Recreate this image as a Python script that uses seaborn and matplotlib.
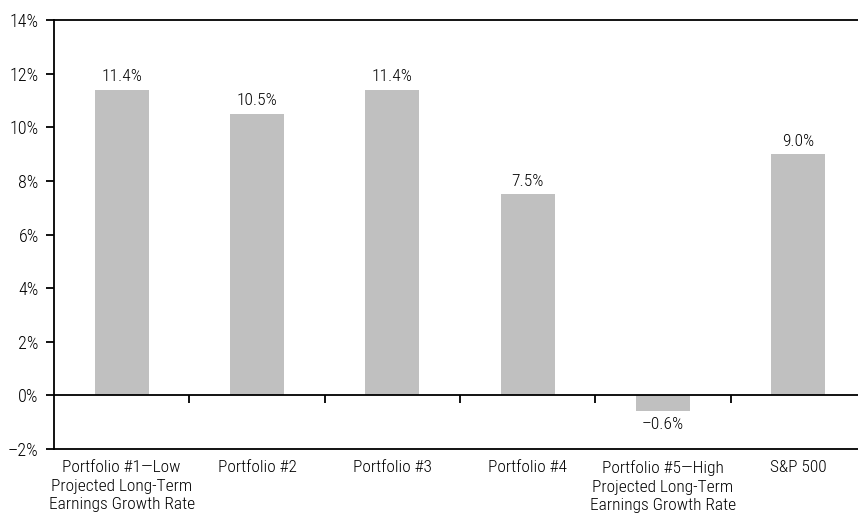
import matplotlib
matplotlib.use("Agg")
import matplotlib.pyplot as plt
import seaborn as sns
import pandas as pd
from matplotlib.ticker import FuncFormatter

categories = [
    "Portfolio #1\u2014Low\nProjected Long-Term\nEarnings Growth Rate",
    "Portfolio #2",
    "Portfolio #3",
    "Portfolio #4",
    "Portfolio #5\u2014High\nProjected Long-Term\nEarnings Growth Rate",
    "S&P 500",
]
values = [11.4, 10.5, 11.4, 7.5, -0.6, 9.0]
yticks = [-2, 0, 2, 4, 6, 8, 10, 12, 14]

sns.set_theme(style="white")
plt.rcParams['font.family'] = ['Roboto Condensed', 'DejaVu Sans']
plt.rcParams['font.weight'] = 'light'
plt.rcParams['text.color'] = 'black'
plt.rcParams['xtick.color'] = 'black'
plt.rcParams['ytick.color'] = 'black'

FS = 12.5

df = pd.DataFrame({"cat": categories, "val": values})

fig = plt.figure(figsize=(8.58, 5.2), dpi=100)
ax = fig.add_axes([54/858, 1-449/520, 812/858, (449-20)/520])

sns.barplot(data=df, x="cat", y="val", color="#c0c0c0", width=0.4,
            saturation=1, linewidth=0, ax=ax)

ax.set_ylim(-2, 14)
ax.set_xlim(-0.5, len(categories) - 0.5)
ax.set_yticks(yticks)
ax.yaxis.set_major_formatter(FuncFormatter(
    lambda v, p: (f"\u2013{abs(int(v))}%" if v < 0 else f"{int(v)}%")))
ax.set_xlabel("")
ax.set_ylabel("")

for s in ax.spines.values():
    s.set_color("black")
    s.set_linewidth(1.3)

ax.tick_params(axis="y", which="major", direction="out", length=6, width=1.3,
               color="black", labelsize=13, pad=5, left=True,
               labelcolor="black")
ax.tick_params(axis="x", which="major", length=0, labelsize=FS, pad=8,
               labelcolor="black")
for lbl in ax.get_xticklabels():
    lbl.set_linespacing(1.3)

# zero line with category-boundary ticks
ax.axhline(0, color="black", linewidth=1.3, zorder=5)
sec = ax.secondary_xaxis(2/16)
sec.spines["bottom"].set_visible(False)
sec.set_xticks([i + 0.5 for i in range(len(categories) - 1)])
sec.tick_params(axis="x", direction="out", length=6, width=1.3,
                color="black", labelbottom=False)

for c in ax.containers:
    ax.bar_label(c, labels=[(f"\u2013{abs(v):.1f}%" if v < 0 else f"{v:.1f}%")
                            for v in values],
                 padding=4, fontsize=FS, color="black")

fig.savefig("out.png", dpi=100)
